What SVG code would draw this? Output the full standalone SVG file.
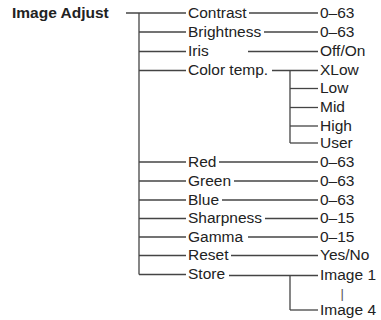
<svg xmlns="http://www.w3.org/2000/svg" width="381" height="320" viewBox="0 0 381 320">
<style>
text{font-family:"Liberation Sans",Arial,sans-serif;font-size:15.5px;fill:#222}
.t{font-weight:bold}
.c line{stroke:#444;stroke-width:1.3;fill:none}
.bar{font-size:13px;fill:#555}
</style>
<rect width="381" height="320" fill="#fff"/>
<g class="c" id="connectors">
<line x1="126" y1="13" x2="186" y2="13"/>
<line x1="139" y1="13" x2="139" y2="274.5"/>
<line x1="139" y1="32" x2="186" y2="32"/>
<line x1="139" y1="51.5" x2="186" y2="51.5"/>
<line x1="139" y1="70.5" x2="186" y2="70.5"/>
<line x1="139" y1="162" x2="186" y2="162"/>
<line x1="139" y1="181" x2="186" y2="181"/>
<line x1="139" y1="200" x2="186" y2="200"/>
<line x1="139" y1="218.5" x2="186" y2="218.5"/>
<line x1="139" y1="237" x2="186" y2="237"/>
<line x1="139" y1="255.5" x2="186" y2="255.5"/>
<line x1="139" y1="274.5" x2="186" y2="274.5"/>
<line x1="249" y1="13" x2="318" y2="13"/>
<line x1="264" y1="32" x2="318" y2="32"/>
<line x1="248" y1="51.5" x2="318" y2="51.5"/>
<line x1="272" y1="70.5" x2="318" y2="70.5"/>
<line x1="290" y1="70.5" x2="290" y2="143"/>
<line x1="290" y1="88.5" x2="318" y2="88.5"/>
<line x1="290" y1="107.5" x2="318" y2="107.5"/>
<line x1="290" y1="126" x2="318" y2="126"/>
<line x1="290" y1="143" x2="318" y2="143"/>
<line x1="219" y1="162" x2="318" y2="162"/>
<line x1="234" y1="181" x2="318" y2="181"/>
<line x1="222" y1="200" x2="318" y2="200"/>
<line x1="265" y1="218.5" x2="318" y2="218.5"/>
<line x1="248" y1="237" x2="318" y2="237"/>
<line x1="231" y1="255.5" x2="318" y2="255.5"/>
<line x1="229" y1="275.5" x2="318" y2="275.5"/>
<line x1="290" y1="275.5" x2="290" y2="310"/>
<line x1="290" y1="310" x2="318" y2="310"/>
</g>
<g id="root"><text class="t" x="12" y="17.5">Image Adjust</text></g>
<g id="contrast"><text x="188" y="17.5">Contrast</text><text x="320" y="17.5">0–63</text></g>
<g id="brightness"><text x="188" y="36.5">Brightness</text><text x="320" y="36.5">0–63</text></g>
<g id="iris"><text x="188" y="56">Iris</text><text x="320" y="56">Off/On</text></g>
<g id="colortemp"><text x="188" y="75">Color temp.</text>
<text x="320" y="75">XLow</text><text x="320" y="93">Low</text><text x="320" y="112">Mid</text><text x="320" y="130.5">High</text><text x="320" y="147.5">User</text></g>
<g id="red"><text x="188" y="166.5">Red</text><text x="320" y="166.5">0–63</text></g>
<g id="green"><text x="188" y="185.5">Green</text><text x="320" y="185.5">0–63</text></g>
<g id="blue"><text x="188" y="204.5">Blue</text><text x="320" y="204.5">0–63</text></g>
<g id="sharpness"><text x="188" y="223">Sharpness</text><text x="320" y="223">0–15</text></g>
<g id="gamma"><text x="188" y="241.5">Gamma</text><text x="320" y="241.5">0–15</text></g>
<g id="reset"><text x="188" y="260">Reset</text><text x="320" y="260">Yes/No</text></g>
<g id="store"><text x="188" y="279">Store</text><text x="320" y="280">Image 1</text>
<text class="bar" x="340.5" y="298">|</text>
<text x="320" y="314.5">Image 4</text></g>
</svg>
